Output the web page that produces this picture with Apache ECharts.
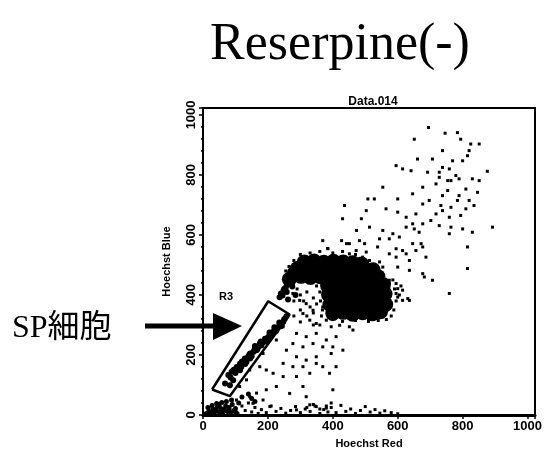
<!DOCTYPE html>
<html>
<head>
<meta charset="utf-8">
<script src="https://cdn.jsdelivr.net/npm/echarts@6/dist/echarts.min.js"></script>
<style>
html,body{margin:0;padding:0;background:#fff;}
#chart{width:548px;height:455px;}
</style>
</head>
<body>
<div id="chart"></div>
<script>
// ---- data (Hoechst Red, Hoechst Blue) ----
var mainTitle = 'Reserpine(-)';
var plotTitle = 'Data.014';
var xName = 'Hoechst Red';
var yName = 'Hoechst Blue';
var tickLabels = [0, 200, 400, 600, 800, 1000];
var gateName = 'R3';
var calloutText = 'SP細胞';

// dense main population (drawn with large marks)
var blobCore = [
  [400,338],[432,342],[461,336],[492,341],[521,337],[547,344],
  [391,368],[419,372],[452,367],[481,371],[512,366],[540,372],[563,368],
  [387,401],[418,398],[449,403],[479,399],[509,402],[538,397],[561,404],
  [384,431],[414,428],[446,433],[476,429],[506,432],[534,428],[556,434],
  [302,462],[331,458],[361,461],[391,457],[421,462],[451,458],[481,462],[511,457],[539,461],
  [291,488],[321,492],[351,489],[381,493],[411,488],[441,492],[471,489],[500,487],[524,484],
  [312,510],[342,513],[372,509],[402,512],[432,510],[461,507],[489,503],
  [266,452],[281,472]
];

// side-population streak inside / near gate R3
var gateCells = [
  [78,133],[88,144],[93,149],[104,160],[109,155],[114,171],[124,177],[129,188],[139,194],
  [145,205],[155,210],[160,221],[170,227],[175,238],[186,243],[191,254],[201,260],[206,271],
  [216,277],[221,288],[232,293],[237,304],[247,310],[252,321],[257,329],[134,177],[165,216],
  [196,249],[227,284],[114,149],[93,116],[83,99],[145,188],[180,232],[211,266],[242,299],[68,105],
  [85,125],[100,140],[118,160],[130,170],[150,196],[168,220],[182,240],[195,245],[210,262],
  [225,280],[240,296],[97,152],[120,178],[142,200],[160,230],[178,245],[205,275],[220,292],
  [235,308],[250,318],
  [240,405],[248,415],[255,425],[262,435],[250,420],[245,398],[258,410],[270,440],[275,428],
  [236,392],[262,385],[285,400]
];

// events near the origin
var originCells = [
  [10,5],[18,12],[25,8],[30,20],[35,4],[40,15],[45,28],[50,10],[55,22],[60,6],[65,18],[70,30],
  [75,12],[80,25],[85,8],[90,35],[95,15],[100,22],[105,5],[110,40],[15,25],[28,32],[42,38],
  [58,42],[72,45],[88,50],[20,10],[40,18],[60,12],[80,20],[30,5],[100,10],[50,35],[120,60],
  [140,70],[160,45],[150,55]
];

// sparse events
var scatterCells = [
  [695,958],[746,939],[784,941],[651,919],[794,919],[825,903],[851,903],[738,881],[820,881],
  [815,864],[661,853],[707,853],[769,847],[800,847],[595,831],[615,820],[641,814],[692,809],
  [728,809],[738,825],[759,820],[779,798],[876,812],[728,792],[754,781],[764,781],[789,787],
  [830,787],[851,781],[718,770],[677,759],[554,759],[754,748],[810,753],[846,742],[738,731],
  [789,731],[646,737],[600,720],[697,715],[733,698],[784,715],[820,715],[835,698],[508,720],
  [528,720],[677,703],[738,681],[764,692],[810,687],[436,698],[430,654],[488,654],[473,615],
  [427,581],[442,571],[482,581],[498,571],[369,581],[384,555],[503,681],[564,687],[600,676],
  [626,659],[656,670],[718,670],[759,659],[794,665],[646,637],[651,620],[513,626],[554,615],
  [585,604],[626,626],[605,593],[677,637],[702,648],[728,631],[764,626],[800,620],[892,626],
  [830,609],[666,609],[759,604],[672,571],[646,571],[574,587],[544,587],[538,560],[595,554],
  [615,548],[626,537],[656,548],[677,560],[687,526],[451,571],[472,548],[503,543],[574,537],
  [595,526],[600,493],[636,482],[815,560],[636,515],[677,471],[707,449],[682,460],[574,449],
  [595,438],[615,416],[600,393],[631,388],[554,438],[544,427],[759,405],[815,488],
  [385,554],[451,537],[492,526],[513,515],[544,510],[554,493],[533,471],[554,460],[574,438],
  [595,405],[615,382],[636,382],[600,421],
  [300,535],[330,540],[360,545],[400,540],[430,545],[470,535],[280,515],[265,495],[255,480],
  [585,450],[590,420],[595,380],[588,350],[605,400],[610,430],[580,330],[565,318],[540,315],
  [510,312],[470,315],[430,312],[400,318],[365,330],[368,350],[362,380],[360,410],[350,430],
  [290,420],[300,400],[320,410],[340,390],[310,380],[330,360],[350,370],[280,380],[300,350],
  [340,340],[320,330],[360,300],[340,300],[300,310],[280,330],
  [277,405],[298,382],[318,371],[339,349],[369,360],[308,338],[329,316],[349,305],[380,316],
  [395,294],[421,299],[451,294],[462,283],[410,261],[380,250],[349,272],[318,261],[288,272],
  [277,238],[308,227],[339,238],[369,227],[400,227],[431,216],[395,205],[349,194],[318,183],
  [288,194],[257,216],[247,172],[277,161],[308,161],[349,172],[369,161],[410,161],[390,139],
  [329,139],[288,128],[247,128],[216,139],[195,150],[175,161],[226,95],[195,84],[165,73],
  [144,61],[185,50],[154,39],[206,28],[308,95],[400,84],[226,250],[247,294],[206,272],[185,205],
  [154,216],[144,150],[134,117],[113,95],[103,50],[267,72],[318,61],[349,28],[380,23],[329,34],
  [288,17],
  [120,30],[130,15],[140,40],[150,10],[160,25],[170,5],[180,18],[195,8],[210,30],[225,12],
  [240,22],[255,6],[270,15],[285,28],[300,8],[315,20],[330,12],[345,30],[360,5],[372,18],
  [385,10],[395,25],[410,8],[425,32],[440,12],[455,20],[470,5],[485,15],[500,28],[515,10],
  [530,18],[545,6],[560,14],[580,8],[600,4],[320,25],[340,35],[360,20],[380,30],[395,40]
];

// gate R3 polygon vertices
var gateR3 = [[28,85],[201,379],[267,335],[83,63],[28,85]];

var chart = echarts.init(document.getElementById('chart'), null, {renderer:'canvas'});
var labelFont = {fontFamily:'Liberation Sans', fontWeight:'bold', color:'#000'};

chart.setOption({
  animation:false,
  backgroundColor:'#fff',
  title:{
    text:plotTitle, left:368, top:91, textAlign:'center',
    textStyle:{fontFamily:'Liberation Sans', fontWeight:'bold', fontSize:12, color:'#000'}
  },
  grid:{left:203, right:13, top:108, bottom:40, show:true, borderColor:'#000', borderWidth:2, backgroundColor:'transparent'},
  xAxis:{
    type:'value', min:0, max:1023, interval:200,
    name:xName, nameLocation:'middle', nameGap:23,
    nameTextStyle:Object.assign({fontSize:11}, labelFont),
    axisLine:{show:true, onZero:false, lineStyle:{color:'#000', width:3}},
    axisTick:{show:true, length:4, lineStyle:{color:'#000', width:1.5}},
    minorTick:{show:true, splitNumber:5, length:2, lineStyle:{color:'#000', width:1.5}},
    axisLabel:Object.assign({fontSize:13, margin:5, showMaxLabel:false,
      formatter:function(v){return tickLabels.indexOf(v)>=0 ? String(v) : '';}}, labelFont),
    splitLine:{show:false}
  },
  yAxis:{
    type:'value', min:0, max:1023, interval:200,
    name:yName, nameLocation:'middle', nameGap:31, nameRotate:90,
    nameTextStyle:Object.assign({fontSize:11}, labelFont),
    axisLine:{show:true, onZero:false, lineStyle:{color:'#000', width:2}},
    axisTick:{show:true, length:4, lineStyle:{color:'#000', width:1.5}},
    minorTick:{show:true, splitNumber:5, length:2, lineStyle:{color:'#000', width:1.5}},
    axisLabel:Object.assign({fontSize:13, margin:5, rotate:90, showMaxLabel:false,
      formatter:function(v){return tickLabels.indexOf(v)>=0 ? String(v) : '';}}, labelFont),
    splitLine:{show:false}
  },
  series:[
    {type:'scatter', name:'core', data:blobCore, symbol:'circle', symbolSize:15,
     itemStyle:{color:'#000', opacity:1}, silent:true},
    {type:'scatter', name:'sparse', data:scatterCells, symbol:'rect', symbolSize:3,
     itemStyle:{color:'#000', opacity:1}, silent:true},
    {type:'scatter', name:'gate', data:gateCells, symbol:'circle', symbolSize:6,
     itemStyle:{color:'#000', opacity:1}, silent:true},
    {type:'scatter', name:'origin', data:originCells, symbol:'circle', symbolSize:5,
     itemStyle:{color:'#000', opacity:1}, silent:true},
    {type:'line', name:gateName, data:gateR3, symbol:'none', silent:true,
     lineStyle:{color:'#000', width:2.5}}
  ],
  graphic:[
    {type:'text', x:340, y:19, style:{text:mainTitle, font:'52px "Liberation Serif"', fill:'#000', textAlign:'center', textVerticalAlign:'top'}},
    {type:'text', x:12, y:329, style:{text:calloutText, font:'32px "Liberation Serif", "Noto Sans CJK JP"', fill:'#000', textAlign:'left', textVerticalAlign:'middle'}},
    {type:'rect', shape:{x:145, y:323.5, width:70, height:5}, style:{fill:'#000'}},
    {type:'polygon', shape:{points:[[213,313],[242,326],[213,340]]}, style:{fill:'#000'}},
    {type:'text', x:226, y:297, style:{text:gateName, font:'bold 11px "Liberation Sans"', fill:'#000', textAlign:'center', textVerticalAlign:'middle'}}
  ]
});
</script>
</body>
</html>
